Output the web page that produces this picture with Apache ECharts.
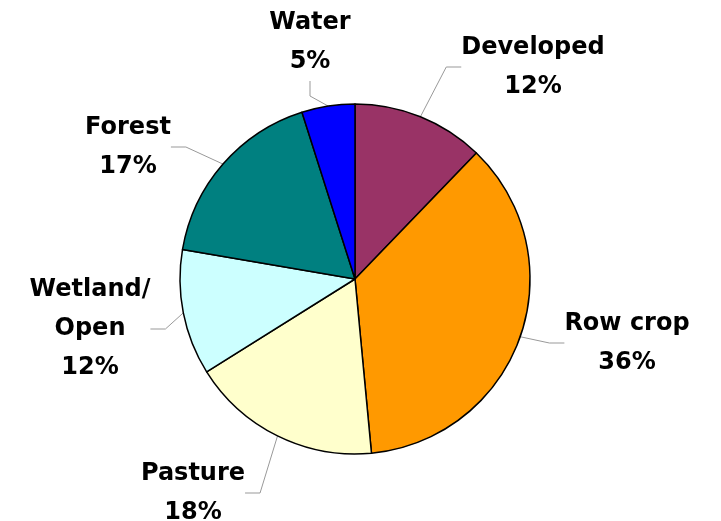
<!DOCTYPE html>
<html>
<head>
<meta charset="utf-8">
<script src="https://cdn.jsdelivr.net/npm/echarts@6/dist/echarts.min.js"></script>
<style>
  html, body { margin: 0; padding: 0; background: #fff; }
  #chart { width: 721px; height: 521px; }
</style>
</head>
<body>
<div id="chart"></div>
<script>
// land use shares (%), clockwise from 12 o'clock; labels show rounded values
var categories = ['Developed', 'Row crop', 'Pasture', 'Wetland/\nOpen', 'Forest', 'Water'];
var shares = [12.2, 36.3, 17.6, 11.6, 17.4, 4.9];
var colors = ['#993366', '#FF9900', '#FFFFCC', '#CCFFFF', '#008080', '#0000FF'];

// label centres (layout only)
var labelPos = [[533, 67], [627, 343], [193, 493], [90, 329], [128, 147], [310, 42]];

var myChart = echarts.init(document.getElementById('chart'));
var options = {
	animation: false,
	series: [{
		type: 'pie',
		center: [355, 279],
		radius: 175,
		startAngle: 90,
		clockwise: true,
		data: categories.map(function (c, i) {
			return { name: c, value: shares[i], itemStyle: { color: colors[i] } };
		}),
		itemStyle: { borderColor: '#000', borderWidth: 1.5 },
		label: {
			show: true,
			position: 'outside',
			formatter: function (p) {
				return p.name + '\n' + Math.round(p.value) + '%';
			},
			fontFamily: 'DejaVu Sans',
			fontWeight: 'bold',
			fontSize: 24,
			lineHeight: 39,
			color: '#000',
			align: 'center'
		},
		labelLine: {
			show: true,
			length: 15,
			length2: 15,
			lineStyle: { color: '#999', width: 1 }
		},
		labelLayout: function (params) {
			var p = labelPos[params.dataIndex];
			return {
				x: p[0],
				y: p[1],
				align: 'center',
				verticalAlign: 'middle'
			};
		}
	}]
};
myChart.setOption(options);
</script>
</body>
</html>
